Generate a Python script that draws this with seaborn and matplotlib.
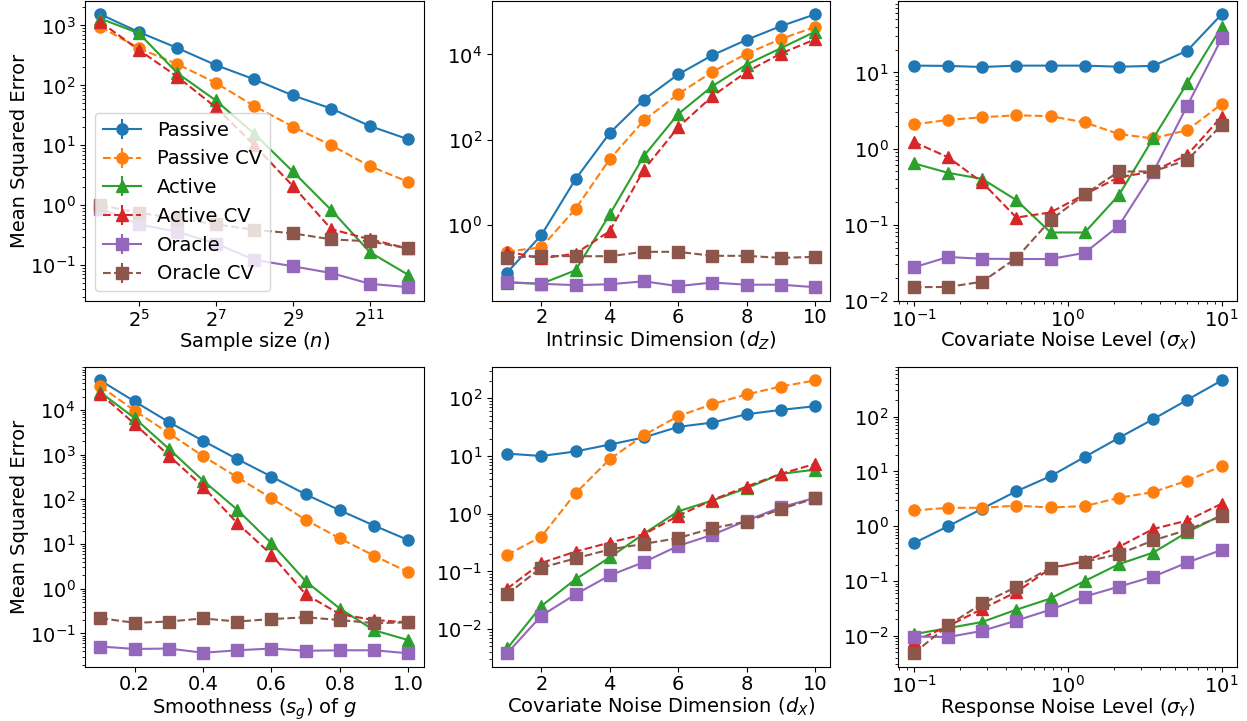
import matplotlib
matplotlib.use("Agg")
import matplotlib.pyplot as plt
from matplotlib.lines import Line2D
from matplotlib.ticker import NullLocator
import seaborn as sns

plt.rcParams["font.size"] = 14
plt.rcParams["font.family"] = ["DejaVu Sans"]
plt.rcParams["xtick.major.pad"] = 2.0
plt.rcParams["xtick.minor.pad"] = 2.0

methods = ["Passive", "Passive CV", "Active", "Active CV", "Oracle", "Oracle CV"]
colors = ["#1f77b4", "#ff7f0e", "#2ca02c", "#d62728", "#9467bd", "#8c564b"]
markers = ["o", "o", "^", "^", "s", "s"]
linestyles = ["-", "--", "-", "--", "-", "--"]

# Panel 1: sample size
n_vals = [16, 32, 64, 128, 256, 512, 1024, 2048, 4096]
n_passive = [1530, 775, 420, 218, 126, 68, 41, 21, 12.6]
n_passive_cv = [950, 415, 226, 110, 45, 20.5, 10, 4.5, 2.45]
n_active = [1300, 740, 160, 56, 15.5, 3.66, 0.83, 0.165, 0.069]
n_active_cv = [1140, 390, 139, 43, 10, 2.1, 0.4, 0.27, 0.19]
n_oracle = [0.88, 0.48, 0.36, 0.23, 0.123, 0.096, 0.074, 0.049, 0.043]
n_oracle_cv = [1.0, 0.75, 0.6, 0.48, 0.39, 0.34, 0.27, 0.25, 0.19]

# Panel 2: intrinsic dimension
dz_vals = [1, 2, 3, 4, 5, 6, 7, 8, 9, 10]
dz_passive = [0.077, 0.58, 11.9, 144, 875, 3400, 9600, 22000, 46000, 87000]
dz_passive_cv = [0.24, 0.3, 2.4, 35, 285, 1180, 3900, 10400, 23000, 44000]
dz_active = [0.045, 0.042, 0.087, 1.78, 42, 400, 1800, 5800, 14000, 34000]
dz_active_cv = [0.24, 0.165, 0.215, 0.72, 20, 195, 1050, 3900, 10500, 22500]
dz_oracle = [0.046, 0.042, 0.039, 0.041, 0.048, 0.037, 0.045, 0.040, 0.040, 0.035]
dz_oracle_cv = [0.17, 0.19, 0.186, 0.186, 0.236, 0.236, 0.19, 0.19, 0.17, 0.18]

# Panel 3: covariate noise level
sx_vals = [0.1, 0.167, 0.278, 0.464, 0.774, 1.29, 2.15, 3.59, 5.99, 10.0]
sx_passive = [12.3, 12.2, 11.8, 12.3, 12.3, 12.3, 11.9, 12.2, 19.4, 58]
sx_passive_cv = [2.08, 2.38, 2.58, 2.74, 2.66, 2.21, 1.55, 1.36, 1.75, 3.84]
sx_active = [0.64, 0.48, 0.40, 0.21, 0.079, 0.079, 0.245, 1.36, 7.3, 40]
sx_active_cv = [1.22, 0.77, 0.36, 0.124, 0.145, 0.25, 0.42, 0.5, 0.83, 2.63]
sx_oracle = [0.0275, 0.0376, 0.0357, 0.0354, 0.0354, 0.0426, 0.097, 0.49, 3.68, 28]
sx_oracle_cv = [0.0151, 0.0152, 0.0178, 0.0364, 0.115, 0.25, 0.5, 0.5, 0.71, 2.04]

# Panel 4: smoothness
sg_vals = [0.1, 0.2, 0.3, 0.4, 0.5, 0.6, 0.7, 0.8, 0.9, 1.0]
sg_passive = [46000, 15600, 5400, 2050, 800, 325, 130, 57, 26, 12.3]
sg_passive_cv = [34000, 9700, 3050, 930, 315, 106, 35, 13.4, 5.5, 2.36]
sg_active = [25000, 6600, 1360, 265, 59, 10.5, 1.48, 0.36, 0.118, 0.071]
sg_active_cv = [23000, 4900, 960, 192, 29.5, 5.8, 0.75, 0.27, 0.2, 0.177]
sg_oracle = [0.051, 0.045, 0.046, 0.037, 0.042, 0.046, 0.041, 0.042, 0.042, 0.036]
sg_oracle_cv = [0.22, 0.173, 0.185, 0.217, 0.185, 0.21, 0.23, 0.2, 0.17, 0.177]

# Panel 5: covariate noise dimension
dx_vals = [1, 2, 3, 4, 5, 6, 7, 8, 9, 10]
dx_passive = [11, 10, 12, 15.8, 21, 32, 38, 53, 63, 73]
dx_passive_cv = [0.193, 0.4, 2.26, 8.8, 23, 49, 79, 117, 160, 204]
dx_active = [0.0046, 0.025, 0.073, 0.174, 0.45, 1.1, 1.69, 2.76, 4.9, 5.8]
dx_active_cv = [0.05, 0.14, 0.22, 0.316, 0.44, 0.92, 1.73, 2.95, 4.9, 7.3]
dx_oracle = [0.0038, 0.017, 0.04, 0.085, 0.145, 0.276, 0.43, 0.76, 1.29, 1.88]
dx_oracle_cv = [0.04, 0.116, 0.168, 0.24, 0.3, 0.377, 0.56, 0.73, 1.2, 1.85]

# Panel 6: response noise level
sy_vals = [0.1, 0.167, 0.278, 0.464, 0.774, 1.29, 2.15, 3.59, 5.99, 10.0]
sy_passive = [0.49, 1.0, 2.09, 4.35, 8.2, 18.4, 41, 90, 203, 457]
sy_passive_cv = [1.94, 2.17, 2.17, 2.37, 2.2, 2.33, 3.3, 4.2, 6.8, 12.5]
sy_active = [0.0107, 0.0138, 0.0179, 0.030, 0.048, 0.1, 0.203, 0.33, 0.78, 1.6]
sy_active_cv = [0.0079, 0.015, 0.031, 0.063, 0.17, 0.23, 0.42, 0.89, 1.27, 2.58]
sy_oracle = [0.0097, 0.0095, 0.0123, 0.019, 0.030, 0.052, 0.079, 0.12, 0.218, 0.37]
sy_oracle_cv = [0.0048, 0.0155, 0.039, 0.078, 0.176, 0.224, 0.31, 0.55, 0.86, 1.53]

panels = [
    (n_vals, [n_passive, n_passive_cv, n_active, n_active_cv, n_oracle, n_oracle_cv],
     "Sample size ($n$)", "log2"),
    (dz_vals, [dz_passive, dz_passive_cv, dz_active, dz_active_cv, dz_oracle, dz_oracle_cv],
     "Intrinsic Dimension ($d_Z$)", "linear"),
    (sx_vals, [sx_passive, sx_passive_cv, sx_active, sx_active_cv, sx_oracle, sx_oracle_cv],
     "Covariate Noise Level ($\\sigma_X$)", "log10"),
    (sg_vals, [sg_passive, sg_passive_cv, sg_active, sg_active_cv, sg_oracle, sg_oracle_cv],
     "Smoothness ($s_g$) of $g$", "linear"),
    (dx_vals, [dx_passive, dx_passive_cv, dx_active, dx_active_cv, dx_oracle, dx_oracle_cv],
     "Covariate Noise Dimension ($d_X$)", "linear"),
    (sy_vals, [sy_passive, sy_passive_cv, sy_active, sy_active_cv, sy_oracle, sy_oracle_cv],
     "Response Noise Level ($\\sigma_Y$)", "log10"),
]

fig, axes = plt.subplots(2, 3, figsize=(12.47, 7.21), dpi=100)
fig.subplots_adjust(left=0.0682, right=0.992, top=0.999, bottom=0.075,
                    wspace=0.201, hspace=0.22)

for idx, (ax, (xv, series, xlabel, xscale)) in enumerate(zip(axes.flat, panels)):
    for name, yv, c, m, ls in zip(methods, series, colors, markers, linestyles):
        sns.lineplot(x=xv, y=yv, ax=ax, color=c, marker=m, linestyle=ls,
                     markersize=8, markeredgecolor=c, markeredgewidth=1,
                     linewidth=1.5, legend=False, errorbar=None)
    ax.set_yscale("log")
    if xscale == "log2":
        ax.set_xscale("log", base=2)
        ax.set_xticks([2**5, 2**7, 2**9, 2**11])
        ax.set_xlabel(xlabel, labelpad=-0.3)
    elif xscale == "log10":
        ax.set_xscale("log")
        ax.set_xlabel(xlabel, labelpad=-0.3)
    else:
        ax.set_xlabel(xlabel, labelpad=1.8)
    if idx % 3 == 0:
        ax.set_ylabel("Mean Squared Error", labelpad=0.5)
    else:
        ax.set_ylabel("")

# intrinsic-dimension panel shows every second decade only
axes[0, 1].set_yticks([1e0, 1e2, 1e4])
axes[0, 1].yaxis.set_minor_locator(NullLocator())

handles = []
for c, m, ls in zip(colors, markers, linestyles):
    h_line = Line2D([], [], color=c, marker=m, linestyle=ls, markersize=8,
                    markeredgecolor=c, linewidth=1.5)
    h_bar = Line2D([], [], color=c, marker="|", linestyle="none", markersize=15,
                   markeredgewidth=1.5)
    handles.append((h_line, h_bar))
axes[0, 0].legend(handles, methods, loc="lower left", fontsize=14)

fig.savefig("out.png", dpi=100)
